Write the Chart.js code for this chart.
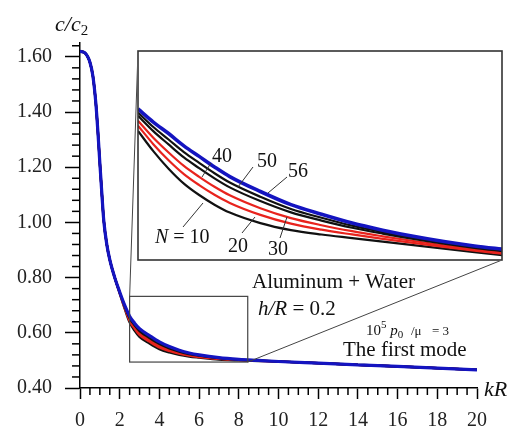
<!DOCTYPE html>
<html><head><meta charset="utf-8">
<script src="https://cdn.jsdelivr.net/npm/chart.js@4.4.0/dist/chart.umd.min.js"></script>
<style>
html,body{margin:0;padding:0;background:#fff;}
#wrap{position:relative;width:511px;height:428px;overflow:hidden;background:#fff;}
#main{position:absolute;left:0;top:0;}
#inset{position:absolute;background:#fff;}
</style></head><body>
<div id="wrap"><canvas id="main" width="511" height="428"></canvas><canvas id="inset"></canvas></div>
<script>
// ---------- data ----------
const seriesNames = ['N = 10', 'N = 20', 'N = 30', 'N = 40', 'N = 50', 'N = 56'];
const kR = [0, 0.25, 0.5, 0.65, 0.8, 0.9, 1.0, 1.1, 1.2, 1.35, 1.5, 1.75, 2.0, 2.25, 2.5, 2.75, 3.0, 3.5, 4.0, 4.5, 5.0, 5.5, 6.0, 7.0, 8.0, 9.0, 10, 12, 14, 16, 18, 20];
const c10 = [1.620, 1.614, 1.580, 1.530, 1.430, 1.330, 1.215, 1.105, 1.005, 0.920, 0.865, 0.800, 0.743, 0.688, 0.638, 0.608, 0.585, 0.561, 0.541, 0.529, 0.520, 0.514, 0.510, 0.503, 0.500, 0.498, 0.496, 0.490, 0.484, 0.478, 0.472, 0.466];
const c20 = [1.620, 1.614, 1.580, 1.530, 1.430, 1.330, 1.215, 1.105, 1.005, 0.920, 0.865, 0.800, 0.744, 0.691, 0.643, 0.615, 0.592, 0.568, 0.547, 0.534, 0.524, 0.517, 0.512, 0.505, 0.501, 0.4985, 0.496, 0.490, 0.484, 0.478, 0.472, 0.466];
const c30 = [1.620, 1.614, 1.580, 1.530, 1.430, 1.330, 1.215, 1.105, 1.005, 0.920, 0.865, 0.800, 0.745, 0.694, 0.648, 0.620, 0.599, 0.574, 0.553, 0.539, 0.528, 0.520, 0.515, 0.506, 0.502, 0.499, 0.496, 0.490, 0.484, 0.478, 0.472, 0.466];
const c40 = [1.620, 1.614, 1.580, 1.530, 1.430, 1.330, 1.215, 1.105, 1.005, 0.920, 0.865, 0.800, 0.746, 0.696, 0.653, 0.627, 0.606, 0.581, 0.559, 0.5435, 0.532, 0.523, 0.517, 0.508, 0.503, 0.4994, 0.496, 0.490, 0.484, 0.478, 0.472, 0.466];
const c50 = [1.620, 1.614, 1.580, 1.530, 1.430, 1.330, 1.215, 1.105, 1.005, 0.920, 0.865, 0.800, 0.747, 0.698, 0.656, 0.630, 0.610, 0.585, 0.563, 0.546, 0.534, 0.525, 0.518, 0.509, 0.503, 0.4997, 0.496, 0.490, 0.484, 0.478, 0.472, 0.466];
const c56 = [1.620, 1.614, 1.580, 1.530, 1.430, 1.330, 1.215, 1.105, 1.005, 0.920, 0.865, 0.800, 0.748, 0.700, 0.660, 0.635, 0.615, 0.590, 0.567, 0.550, 0.537, 0.527, 0.520, 0.510, 0.504, 0.500, 0.496, 0.490, 0.484, 0.478, 0.472, 0.466];

// inset (enlarged view)
const insetKR = [2.5, 2.75, 3.0, 3.25, 3.5, 3.75, 4.0, 4.5, 5.0, 5.5, 6.0, 6.5, 7.0, 7.5, 8.0, 8.5];
const inset10 = [0.641, 0.618, 0.598, 0.581, 0.568, 0.557, 0.548, 0.536, 0.528, 0.523, 0.519, 0.515, 0.511, 0.507, 0.503, 0.499];
const inset20 = [0.647, 0.6259, 0.6076, 0.5918, 0.5793, 0.5683, 0.559, 0.5454, 0.5354, 0.5285, 0.5231, 0.5181, 0.5134, 0.5089, 0.5047, 0.5007];
const inset30 = [0.6525, 0.6332, 0.6164, 0.6011, 0.5887, 0.5774, 0.5677, 0.553, 0.5417, 0.5336, 0.5268, 0.521, 0.5156, 0.5107, 0.5062, 0.5022];
const inset40 = [0.6583, 0.6408, 0.6256, 0.6108, 0.5986, 0.587, 0.5767, 0.5611, 0.5482, 0.5389, 0.5307, 0.524, 0.5179, 0.5125, 0.5078, 0.5038];
const inset50 = [0.6618, 0.6454, 0.6312, 0.6168, 0.6046, 0.5928, 0.5822, 0.566, 0.5521, 0.5421, 0.5331, 0.5258, 0.5193, 0.5136, 0.5088, 0.5048];
const inset56 = [0.666, 0.651, 0.638, 0.624, 0.612, 0.600, 0.589, 0.572, 0.557, 0.546, 0.536, 0.528, 0.521, 0.515, 0.510, 0.506];

// axes / ticks
const xTickLabels = ['0', '2', '4', '6', '8', '10', '12', '14', '16', '18', '20'];
const yTickLabels = ['0.40', '0.60', '0.80', '1.00', '1.20', '1.40', '1.60'];
const xRange = [0, 20];
const yRange = [0.40, 1.65];
const xMajorStep = 2, xMinorStep = 0.5;
const yMajorStep = 0.2, yMinorStep = 0.04;
const zoomBoxKR = [2.5, 8.45];
const zoomBoxC = [0.494, 0.732];
const insetLabels = ['40', '50', '56', 'N = 10', '20', '30'];

// ---------- styling ----------
const SERIF = '"Liberation Serif", "Times New Roman", serif';
const RED = '#e8231d', BLUE = '#1414c0', BLACK = '#111';
const seriesStyle = [
  {color: BLACK, w: 2.4}, {color: RED, w: 2.2}, {color: RED, w: 2.2},
  {color: BLACK, w: 2.2}, {color: BLACK, w: 2.2}, {color: BLUE, w: 3.2}
];
const insetStyle = [
  {color: BLACK, w: 2.2}, {color: RED, w: 2.2}, {color: RED, w: 2.2},
  {color: BLACK, w: 2.2}, {color: BLACK, w: 2.2}, {color: BLUE, w: 3.6}
];
const INSET = {left: 137, top: 50, w: 366, h: 211};

function pts(xs, ys) { return xs.map((x, i) => ({x: x, y: ys[i]})); }
function makeSets(xs, arrs, styles) {
  return arrs.map((a, i) => ({
    label: seriesNames[i], data: pts(xs, a),
    borderColor: styles[i].color, borderWidth: styles[i].w,
    pointRadius: 0, fill: false, cubicInterpolationMode: 'monotone',
    order: arrs.length - i
  }));
}
function line(ctx, x1, y1, x2, y2) { ctx.beginPath(); ctx.moveTo(x1, y1); ctx.lineTo(x2, y2); ctx.stroke(); }
function runs(ctx, x, base, parts) {
  let cx = x;
  for (const p of parts) {
    ctx.font = p.f;
    ctx.fillText(p.t, cx, base + (p.dy || 0));
    cx += ctx.measureText(p.t).width;
  }
}
function isMajor(v, step) { const r = v / step; return Math.abs(r - Math.round(r)) < 1e-6; }

const mainDecor = {
  id: 'mainDecor',
  afterDraw(chart) {
    const ctx = chart.ctx, x = chart.scales.x, y = chart.scales.y, ca = chart.chartArea;
    ctx.save();
    ctx.strokeStyle = '#000'; ctx.lineWidth = 1.5;
    // minor ticks
    const nx = Math.round((xRange[1] - xRange[0]) / xMinorStep);
    for (let i = 0; i <= nx; i++) {
      const v = xRange[0] + i * xMinorStep;
      if (isMajor(v, xMajorStep)) continue;
      const px = x.getPixelForValue(v);
      line(ctx, px, ca.bottom, px, ca.bottom + 7);
    }
    const ny = Math.floor((yRange[1] - yRange[0]) / yMinorStep + 1e-6);
    for (let i = 0; i <= ny; i++) {
      const v = yRange[0] + i * yMinorStep;
      if (isMajor(v - yRange[0], yMajorStep)) continue;
      const py = y.getPixelForValue(v);
      line(ctx, ca.left - 8, py, ca.left, py);
    }
    // zoom box
    const bx1 = x.getPixelForValue(zoomBoxKR[0]), bx2 = x.getPixelForValue(zoomBoxKR[1]);
    const by1 = y.getPixelForValue(zoomBoxC[1]), by2 = y.getPixelForValue(zoomBoxC[0]);
    ctx.strokeStyle = '#444'; ctx.lineWidth = 1.2;
    ctx.strokeRect(bx1, by1, bx2 - bx1, by2 - by1);
    // connectors to inset
    ctx.lineWidth = 1;
    line(ctx, bx1, by1, INSET.left + 1, INSET.top + 1);
    line(ctx, bx2, by2, INSET.left + INSET.w - 1, INSET.top + INSET.h - 1);
    // texts
    ctx.fillStyle = '#111'; ctx.textBaseline = 'alphabetic'; ctx.textAlign = 'left';
    runs(ctx, 55, 31, [{t: 'c/c', f: 'italic 22px ' + SERIF}, {t: '2', f: '15px ' + SERIF, dy: 4}]);
    runs(ctx, 484, 396, [{t: 'kR', f: 'italic 22px ' + SERIF}]);
    runs(ctx, 252, 288, [{t: 'Aluminum + Water', f: '21px ' + SERIF}]);
    runs(ctx, 258, 315, [{t: 'h/R', f: 'italic 21px ' + SERIF}, {t: ' = 0.2', f: '21px ' + SERIF}]);
    runs(ctx, 366, 335, [{t: '10', f: '15px ' + SERIF}, {t: '5', f: '11px ' + SERIF, dy: -7}, {t: ' ', f: '15px ' + SERIF},
      {t: 'p', f: 'italic 15px ' + SERIF}, {t: '0', f: '11px ' + SERIF, dy: 3}]);
    ctx.font = '13px ' + SERIF;
    ctx.fillText('/\u03bc', 411, 335);
    ctx.fillText('= 3', 432, 335);
    runs(ctx, 343, 356, [{t: 'The first mode', f: '21px ' + SERIF}]);
    ctx.restore();
  }
};

new Chart(document.getElementById('main'), {
  type: 'line',
  data: {datasets: makeSets(kR, [c10, c20, c30, c40, c50, c56], seriesStyle)},
  options: {
    responsive: false, animation: false, events: [],
    layout: {padding: {left: 0, top: 43, right: 34, bottom: 0}},
    plugins: {legend: {display: false}, tooltip: {enabled: false}, title: {display: false}},
    scales: {
      x: {
        type: 'linear', min: xRange[0], max: xRange[1],
        afterFit: s => { s.height = 40; },
        grid: {display: true, drawOnChartArea: false, drawTicks: true, tickLength: 11, tickWidth: 1.5, color: '#000'},
        border: {display: true, color: '#000', width: 1.5},
        ticks: {stepSize: xMajorStep, padding: 10, color: '#222', font: {family: SERIF, size: 20},
          maxRotation: 0, autoSkip: false, includeBounds: false,
          callback: v => xTickLabels[Math.round((v - xRange[0]) / xMajorStep)]}
      },
      y: {
        type: 'linear', min: yRange[0], max: yRange[1],
        afterFit: s => { s.width = 80; },
        grid: {display: true, drawOnChartArea: false, drawTicks: true, tickLength: 15, tickWidth: 1.5, color: '#000'},
        border: {display: true, color: '#000', width: 1.5},
        ticks: {stepSize: yMajorStep, padding: 13, color: '#222', font: {family: SERIF, size: 20},
          autoSkip: false, includeBounds: false,
          callback: v => yTickLabels[Math.round((v - yRange[0]) / yMajorStep)]}
      }
    }
  },
  plugins: [mainDecor]
});

// ---------- inset ----------
const insetCanvas = document.getElementById('inset');
insetCanvas.width = INSET.w; insetCanvas.height = INSET.h;
insetCanvas.style.left = INSET.left + 'px'; insetCanvas.style.top = INSET.top + 'px';

const insetDecor = {
  id: 'insetDecor',
  afterDraw(chart) {
    const ctx = chart.ctx, ca = chart.chartArea;
    const ox = INSET.left, oy = INSET.top;
    ctx.save();
    ctx.strokeStyle = '#333'; ctx.lineWidth = 1;
    // leader lines (page coords minus offset)
    line(ctx, 211 - ox, 163 - oy, 202 - ox, 177 - oy);
    line(ctx, 253 - ox, 167 - oy, 238 - ox, 187 - oy);
    line(ctx, 287 - ox, 177 - oy, 268 - ox, 193 - oy);
    line(ctx, 183 - ox, 227 - oy, 203 - ox, 203 - oy);
    line(ctx, 242 - ox, 233 - oy, 255 - ox, 217 - oy);
    line(ctx, 280 - ox, 238 - oy, 287 - ox, 217 - oy);
    ctx.fillStyle = '#111'; ctx.textBaseline = 'alphabetic'; ctx.textAlign = 'left';
    const f = '20px ' + SERIF;
    runs(ctx, 212 - ox, 162 - oy, [{t: insetLabels[0], f: f}]);
    runs(ctx, 257 - ox, 167 - oy, [{t: insetLabels[1], f: f}]);
    runs(ctx, 288 - ox, 177 - oy, [{t: insetLabels[2], f: f}]);
    runs(ctx, 155 - ox, 243 - oy, [{t: 'N', f: 'italic 20px ' + SERIF}, {t: insetLabels[3].slice(1), f: f}]);
    runs(ctx, 228 - ox, 252 - oy, [{t: insetLabels[4], f: f}]);
    runs(ctx, 268 - ox, 255 - oy, [{t: insetLabels[5], f: f}]);
    // border
    ctx.strokeStyle = '#333'; ctx.lineWidth = 1.6;
    ctx.strokeRect(ca.left, ca.top, ca.right - ca.left, ca.bottom - ca.top);
    ctx.restore();
  }
};

new Chart(insetCanvas, {
  type: 'line',
  data: {datasets: makeSets(insetKR, [inset10, inset20, inset30, inset40, inset50, inset56], insetStyle)},
  options: {
    responsive: false, animation: false, events: [],
    layout: {padding: 1},
    plugins: {legend: {display: false}, tooltip: {enabled: false}},
    scales: {
      x: {type: 'linear', min: zoomBoxKR[0], max: zoomBoxKR[1], display: false},
      y: {type: 'linear', min: zoomBoxC[0], max: zoomBoxC[1], display: false}
    }
  },
  plugins: [insetDecor]
});
</script>
</body></html>
